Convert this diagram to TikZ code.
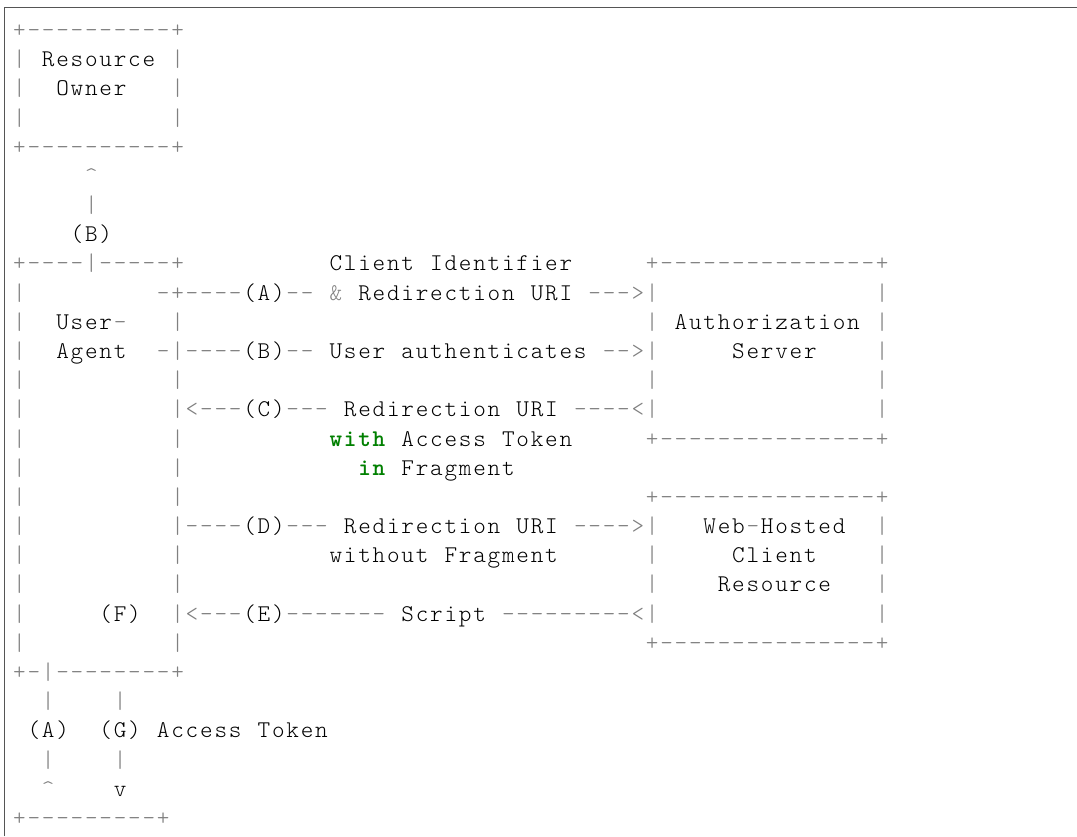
\documentclass[tikz,border=0pt]{standalone}
\usepackage{xcolor}
\definecolor{symgray}{HTML}{808080}
\definecolor{kwgreen}{HTML}{008000}
\definecolor{framegray}{HTML}{555555}
\ExplSyntaxOn
\dim_new:N \g_asc_cw_dim
\dim_gset:Nn \g_asc_cw_dim {14.38pt}
\cs_new_protected:Npn \asc_char:n #1
  {
    \str_case:nnF {#1}
      {
        {+}{\textcolor{symgray}{#1}}
        {-}{\textcolor{symgray}{#1}}
        {|}{\textcolor{symgray}{#1}}
        {<}{\textcolor{symgray}{#1}}
        {>}{\textcolor{symgray}{#1}}
        {^}{\textcolor{symgray}{#1}}
        {&}{\textcolor{symgray}{#1}}
      }
      {#1}
  }
\NewDocumentCommand \arow { O{} m }
  {
    \str_map_inline:nn {#2}
      {
        \str_if_eq:nnTF {##1} {.}
          { \hbox_to_wd:nn { \g_asc_cw_dim } { \hfil } }
          {
            \hbox_to_wd:nn { \g_asc_cw_dim }
              {
                \hss
                \tl_if_empty:nTF {#1} { \asc_char:n {##1} } { {#1 ##1} }
                \hss
              }
          }
      }
  }
\ExplSyntaxOff
\newcommand\cell[2]{({12.3pt+#1*14.38pt},{-37.5pt-29.18pt*#2})}
\tikzset{
  rowtxt/.style={anchor=base west, inner sep=0pt, outer sep=0pt,
    font=\fontsize{24pt}{24pt}\ttfamily\fontseries{l}\selectfont},
  frameline/.style={draw=framegray, line width=1.6pt}
}
\begin{document}
\begin{tikzpicture}
\useasboundingbox (0pt,0pt) rectangle (1077pt,-836pt);
\fill[white] (0pt,0pt) rectangle (1077pt,-836pt);
\draw[frameline] (4.5pt,-836pt) -- (4.5pt,-7.3pt) -- (1077pt,-7.3pt);
\node[rowtxt] (r0)  at \cell{0}{0}  {\arow{+----------+}};
\node[rowtxt] (r1)  at \cell{0}{1}  {\arow{|.Resource.|}};
\node[rowtxt] (r2)  at \cell{0}{2}  {\arow{|..Owner...|}};
\node[rowtxt] (r3)  at \cell{0}{3}  {\arow{|..........|}};
\node[rowtxt] (r4)  at \cell{0}{4}  {\arow{+----------+}};
\node[rowtxt] (r5)  at \cell{0}{5}  {\arow{.....^}};
\node[rowtxt] (r6)  at \cell{0}{6}  {\arow{.....|}};
\node[rowtxt] (r7)  at \cell{0}{7}  {\arow{....(B)}};
\node[rowtxt] (r8)  at \cell{0}{8}  {\arow{+----|-----+..........Client.Identifier.....+---------------+}};
\node[rowtxt] (r9)  at \cell{0}{9}  {\arow{|.........-+----(A)--.&.Redirection.URI.--->|...............|}};
\node[rowtxt] (r10) at \cell{0}{10} {\arow{|..User-...|................................|.Authorization.|}};
\node[rowtxt] (r11) at \cell{0}{11} {\arow{|..Agent..-|----(B)--.User.authenticates.-->|.....Server....|}};
\node[rowtxt] (r12) at \cell{0}{12} {\arow{|..........|................................|...............|}};
\node[rowtxt] (r13) at \cell{0}{13} {\arow{|..........|<---(C)---.Redirection.URI.----<|...............|}};
\node[rowtxt] (r14) at \cell{0}{14} {\arow{|..........|...............Access.Token.....+---------------+}};
\node[rowtxt] (kw14) at \cell{22}{14} {\arow[\bfseries\color{kwgreen}]{with}};
\node[rowtxt] (r15) at \cell{0}{15} {\arow{|..........|...............Fragment}};
\node[rowtxt] (kw15) at \cell{24}{15} {\arow[\bfseries\color{kwgreen}]{in}};
\node[rowtxt] (r16) at \cell{0}{16} {\arow{|..........|................................+---------------+}};
\node[rowtxt] (r17) at \cell{0}{17} {\arow{|..........|----(D)---.Redirection.URI.---->|...Web-Hosted..|}};
\node[rowtxt] (r18) at \cell{0}{18} {\arow{|..........|..........without.Fragment......|.....Client....|}};
\node[rowtxt] (r19) at \cell{0}{19} {\arow{|..........|................................|....Resource...|}};
\node[rowtxt] (r20) at \cell{0}{20} {\arow{|.....(F)..|<---(E)-------.Script.---------<|...............|}};
\node[rowtxt] (r21) at \cell{0}{21} {\arow{|..........|................................+---------------+}};
\node[rowtxt] (r22) at \cell{0}{22} {\arow{+-|--------+}};
\node[rowtxt] (r23) at \cell{0}{23} {\arow{..|....|}};
\node[rowtxt] (r24) at \cell{0}{24} {\arow{.(A)..(G).Access.Token}};
\node[rowtxt] (r25) at \cell{0}{25} {\arow{..|....|}};
\node[rowtxt] (r26) at \cell{0}{26} {\arow{..^....v}};
\node[rowtxt] (r27) at \cell{0}{27} {\arow{+---------+}};
\end{tikzpicture}
\end{document}
